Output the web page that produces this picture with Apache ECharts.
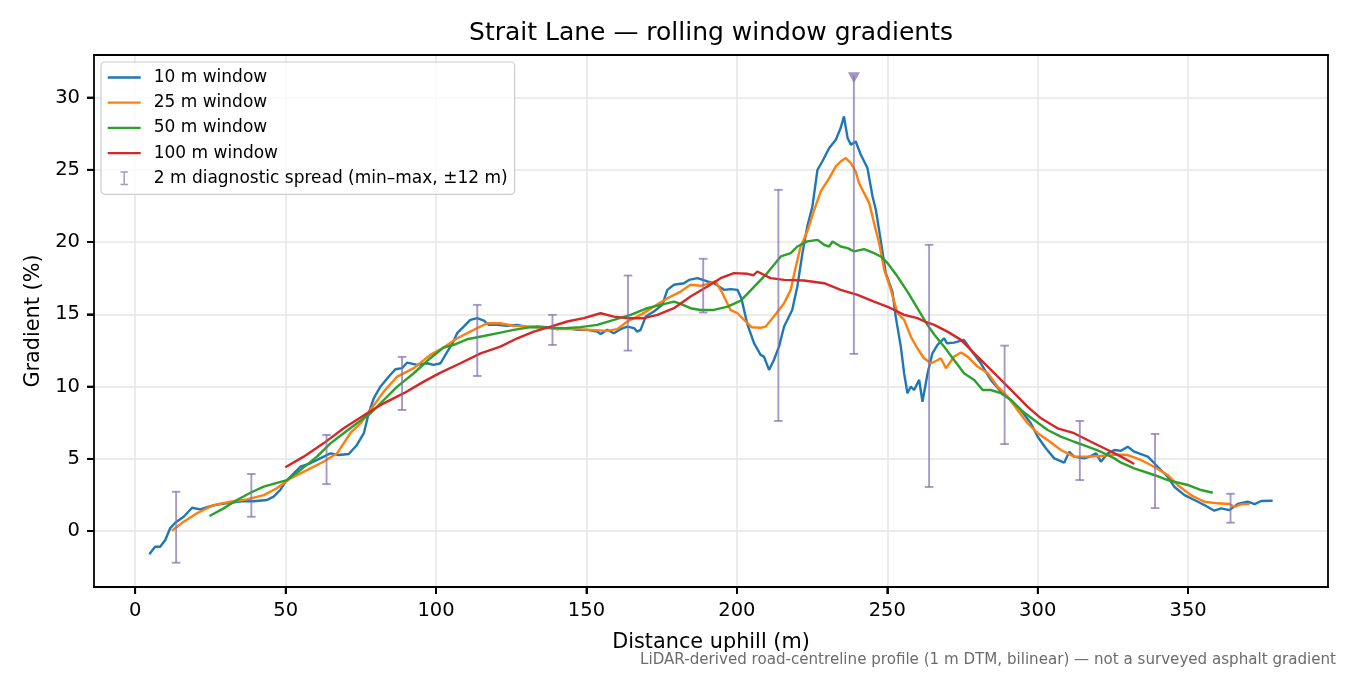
<!DOCTYPE html>
<html><head><meta charset="utf-8">
<script src="https://cdn.jsdelivr.net/npm/echarts@6/dist/echarts.min.js"></script>
<style>html,body{margin:0;padding:0;background:#fff}#c{width:1350px;height:675px}</style>
</head><body><div id="c"></div>
<script>
const xTicks=[0,50,100,150,200,250,300,350];
const yTicks=[0,5,10,15,20,25,30];
const seriesNames=['10 m window','25 m window','50 m window','100 m window'];
const errName='2 m diagnostic spread (min–max, ±12 m)';
const win10=[[4.7,-1.6],[6.6,-1.09],[8.3,-1.09],[10,-0.62],[11.6,0.19],[13.3,0.58],[16.1,0.99],[18.9,1.61],[21.6,1.5],[25,1.73],[28.3,1.87],[31.6,1.96],[36,2.08],[39.4,2.06],[43.8,2.15],[46,2.38],[48.2,2.84],[49.9,3.41],[52.7,3.99],[54.9,4.45],[58.2,4.69],[61.5,5.03],[64.9,5.38],[67.7,5.26],[71,5.33],[73.7,5.96],[76,6.77],[77.6,8.15],[79.3,9.19],[81.5,9.99],[84.3,10.69],[86.5,11.2],[88.7,11.27],[90.4,11.66],[93.7,11.5],[97,11.61],[99.2,11.5],[101.5,11.61],[103.4,12.3],[105.5,13.0],[107,13.69],[109.2,14.15],[111.4,14.61],[113.7,14.73],[115.9,14.56],[117.5,14.27],[120.3,14.27],[123.6,14.2],[127,14.27],[130.3,14.11],[133.6,14.15],[137,14.11],[140.3,13.97],[143.6,14.04],[146.9,13.92],[150.3,13.92],[153.6,13.8],[154.7,13.64],[156.9,13.92],[159.1,13.69],[161.3,13.97],[163.6,14.15],[165.8,14.04],[166.9,13.8],[168,13.92],[169.7,14.84],[172.4,15.19],[175.2,15.65],[176.9,16.69],[179.1,17.04],[182.4,17.15],[184.1,17.38],[186.9,17.5],[190.2,17.27],[192.4,17.15],[195.7,16.69],[197.9,16.74],[200.2,16.69],[201.5,16.1],[203.5,14.3],[205.7,13.0],[207.9,12.19],[209,12.07],[210.7,11.15],[212.3,11.84],[214,12.76],[215.7,14.15],[218.4,15.3],[220.1,16.92],[221.8,19.23],[223.4,21.07],[225.1,22.46],[226.8,25.0],[228.4,25.57],[230.7,26.5],[232.9,27.08],[234.5,27.89],[235.6,28.69],[236.8,27.2],[237.9,26.73],[239.5,26.96],[241.2,26.04],[243.4,25.12],[245.1,23.15],[246.2,22.23],[247.8,20.15],[249.5,17.85],[251.7,16.57],[252.8,14.84],[254.5,12.76],[255.6,10.92],[256.7,9.54],[257.8,9.99],[258.9,9.76],[260.6,10.46],[261.7,8.95],[263.4,10.92],[265.0,12.3],[266.7,12.88],[268.9,13.34],[269.8,13.0],[272.2,13.04],[275.5,13.23],[277.8,12.53],[281.1,11.61],[284.4,10.46],[287.8,9.65],[291.1,9.07],[294.4,8.38],[297.7,7.46],[300,6.53],[302.7,5.73],[305.5,5.03],[308.8,4.73],[310.5,5.49],[312.1,5.15],[315.5,5.03],[317.7,5.19],[319.4,5.38],[321,4.8],[323.3,5.38],[325.5,5.61],[327.7,5.55],[329.9,5.84],[332.1,5.49],[336.6,5.15],[339.9,4.45],[343.2,3.76],[345.4,3.07],[348.8,2.49],[352.1,2.15],[355.4,1.8],[358.7,1.41],[361,1.57],[363.7,1.45],[366.5,1.87],[369.8,2.03],[372.1,1.87],[374.3,2.08],[378.1,2.1]];
const win25=[[12.2,0.02],[16.1,0.65],[20.5,1.23],[26,1.8],[31.6,2.03],[37.2,2.19],[42.7,2.49],[47.1,2.96],[51.6,3.65],[57.1,4.22],[62.6,4.8],[67.1,5.38],[71.5,6.77],[74.9,7.46],[78.2,8.38],[82.6,9.65],[87.1,10.69],[92.6,11.27],[98.1,12.19],[102.5,12.7],[107,13.34],[112.5,13.92],[117,14.38],[121.4,14.38],[125.8,14.2],[130.3,14.15],[134.7,14.08],[140.3,13.97],[145.8,13.97],[151.4,13.92],[156.9,13.85],[160.2,13.97],[163.6,14.5],[168,14.96],[172.4,15.53],[176.9,16.11],[181.3,16.57],[184.6,17.04],[187.9,16.97],[191.2,17.15],[192.9,17.27],[195.2,16.46],[197.9,15.3],[200.2,15.07],[202.4,14.61],[205,14.1],[207.9,14.07],[209.6,14.15],[212.3,14.84],[215.7,15.77],[217.9,16.69],[219.6,18.3],[221.2,19.69],[223.4,20.73],[225.7,22.23],[227.9,23.5],[230.7,24.42],[232.9,25.23],[234.5,25.57],[236.2,25.81],[237.9,25.46],[239.5,24.88],[240.6,24.08],[242.3,23.38],[244,22.69],[245.6,21.31],[247.3,19.92],[249,18.07],[251.2,16.69],[253.4,15.07],[255.6,14.61],[257.8,13.46],[260,12.65],[262.2,11.96],[264.5,11.61],[266.5,11.8],[267.8,11.96],[269.5,11.27],[272.2,12.07],[274.5,12.35],[276.7,12.07],[280,11.38],[283.4,10.92],[286.7,9.99],[290,9.3],[293.3,8.38],[296.6,7.46],[300,6.77],[303.3,6.3],[307.7,5.61],[312.1,5.15],[316.6,5.15],[321,5.19],[325.5,5.3],[329.9,5.26],[334.3,4.92],[338.7,4.45],[343.2,3.88],[346.5,3.19],[350.9,2.49],[355.4,2.03],[359.8,1.92],[363.7,1.87],[365.3,1.68],[367.6,1.85],[370.4,1.87]];
const win50=[[24.7,1.04],[29.4,1.57],[33.8,2.15],[38.3,2.65],[42.7,3.07],[47.1,3.34],[50.5,3.53],[54.9,4.22],[60.4,5.15],[64.9,6.07],[69.3,6.77],[73.7,7.46],[78.2,8.15],[82.6,9.07],[87.1,9.99],[92.6,10.92],[98.1,11.96],[102.5,12.7],[105.9,12.88],[110.3,13.27],[115.9,13.5],[121.4,13.73],[125.8,13.92],[131.4,14.11],[137,14.08],[142.5,14.04],[148,14.11],[153.6,14.27],[159.1,14.61],[164.7,14.96],[170.2,15.42],[174.6,15.65],[179.1,15.88],[181.3,15.72],[184.6,15.42],[187.9,15.3],[192.4,15.3],[196.9,15.53],[201.3,15.95],[205.7,16.9],[210.1,17.85],[214.6,19.0],[217.9,19.23],[220.1,19.69],[223.4,20.04],[226.8,20.15],[229,19.81],[230.7,19.69],[231.8,20.04],[234.5,19.69],[236.8,19.58],[239,19.35],[242.3,19.51],[245.6,19.23],[247.8,19.0],[250.1,18.54],[253.4,17.61],[256.7,16.57],[260,15.42],[263.4,14.25],[265.6,13.6],[268.9,12.76],[272.2,11.84],[275.5,10.92],[278.9,10.46],[281.7,9.76],[284.4,9.76],[287.8,9.54],[291.1,9.07],[294.4,8.38],[298.8,7.69],[303.3,6.99],[307.7,6.53],[312.1,6.18],[316.6,5.84],[321,5.49],[325.5,5.03],[327.7,4.73],[332.1,4.34],[338.7,3.88],[343.2,3.53],[349.9,3.19],[354.3,2.84],[358.2,2.65]];
const win100=[[49.9,4.41],[56,5.15],[62.6,6.07],[69.3,7.11],[77.1,8.15],[82.6,8.84],[89.3,9.54],[95.9,10.34],[101.5,10.96],[108.1,11.61],[114.8,12.3],[121.4,12.76],[127,13.34],[132.5,13.8],[138.1,14.15],[143.6,14.5],[149.1,14.73],[154.7,15.07],[159.1,14.84],[163.6,14.73],[169.1,14.73],[173.6,14.96],[179.1,15.42],[184.6,16.23],[190.2,16.92],[194.6,17.5],[199,17.85],[203.5,17.8],[205.5,17.7],[206.8,17.96],[211.2,17.5],[215.7,17.38],[222.3,17.34],[229,17.15],[234.5,16.69],[240.1,16.34],[245.6,15.88],[251.2,15.42],[255.6,14.96],[260,14.73],[263,14.45],[265.6,14.27],[270,13.8],[274.5,13.23],[278.9,12.3],[283.4,11.38],[287.8,10.46],[292.2,9.54],[296.6,8.61],[301.1,7.8],[306.6,7.11],[312.1,6.77],[317.7,6.18],[323.3,5.61],[327.7,5.15],[332.1,4.64]];
const errX=[13.6,38.6,63.6,88.7,113.7,138.7,163.8,188.8,213.8,238.9,263.9,289.0,314.0,339.0,364.1];
const errLow=[-2.19,0.99,3.25,8.38,10.73,12.88,12.49,15.12,7.62,12.26,3.05,6.02,3.53,1.59,0.58];
const errHigh=[2.72,3.95,6.65,12.05,15.65,14.96,17.68,18.84,23.61,31.5,19.81,12.83,7.62,6.72,2.58];
const clippedX=[238.9];
const clippedY=[31.5];

const X_MIN=-13.7, X_MAX=396.5, Y_MIN=-3.87, Y_MAX=32.94;
const colors=['#1f77b4','#ff7f0e','#2ca02c','#d62728'];
const errColor='rgba(128,110,174,0.7)';
const FONT='"DejaVu Sans", sans-serif';
const lines=[win10,win25,win50,win100];
const lineIcon='path://M0,0H33V2.3H0Z';
const TICK_LEN=7;

const chart=echarts.init(document.getElementById('c'),null,{renderer:'canvas'});
const series=lines.map((d,i)=>({
  name:seriesNames[i], type:'line', data:d, showSymbol:false, symbol:'none',
  lineStyle:{color:colors[i],width:2.4}, itemStyle:{color:colors[i]}, z:3, animation:false, clip:true
}));
series.push({
  name:errName, type:'custom', z:4, animation:false,
  itemStyle:{color:errColor},
  data:errX.map((x,i)=>[x,errLow[i],errHigh[i],clippedX.indexOf(x)>=0?1:0]),
  encode:{x:0,y:[1,2]},
  renderItem:function(params,api){
    const x=api.value(0), lo=api.value(1), hi=api.value(2), clip=api.value(3);
    const p1=api.coord([x,hi]), p2=api.coord([x,lo]);
    const w=4.3;
    const st={stroke:errColor,lineWidth:1.9,fill:null};
    const ch=[
      {type:'line',shape:{x1:p1[0],y1:p1[1],x2:p2[0],y2:p2[1]},style:st},
      {type:'line',shape:{x1:p2[0]-w,y1:p2[1],x2:p2[0]+w,y2:p2[1]},style:st}
    ];
    if(!clip) ch.push({type:'line',shape:{x1:p1[0]-w,y1:p1[1],x2:p1[0]+w,y2:p1[1]},style:st});
    return {type:'group',children:ch};
  }
});
series.push({
  name:'clipped', type:'scatter', z:5, animation:false,
  data:clippedX.map((x,i)=>[x,clippedY[i]]),
  symbol:'triangle', symbolRotate:180, symbolSize:[12,11], symbolOffset:[0,2],
  itemStyle:{color:'#8a7bb2'}
});

const textGraphics=[
  {type:'text',x:711,y:33,z:10,style:{text:'Strait Lane — rolling window gradients',font:'25px "DejaVu Sans"',fill:'#000',align:'center',verticalAlign:'middle'}},
  {type:'text',x:1336,y:660,z:10,style:{text:'LiDAR-derived road-centreline profile (1 m DTM, bilinear) — not a surveyed asphalt gradient',font:'15.1px "DejaVu Sans"',fill:'#6b6b6b',align:'right',verticalAlign:'middle'}}
];

const frameAxis={axisLabel:{show:false},axisTick:{show:false},splitLine:{show:false},axisLine:{show:true,onZero:false,lineStyle:{color:'#000',width:1.8}}};

const option={
  backgroundColor:'#ffffff',
  animation:false,
  grid:{left:94,right:22,top:55,bottom:88,show:false},
  xAxis:[{
    type:'value', min:X_MIN, max:X_MAX, position:'bottom',
    name:'Distance uphill (m)', nameLocation:'middle', nameGap:45,
    nameTextStyle:{fontFamily:FONT,fontSize:20.8,color:'#000'},
    axisLine:{show:true,onZero:false,lineStyle:{color:'#000',width:1.8}},
    axisTick:{show:true,customValues:xTicks,length:TICK_LEN,inside:false,lineStyle:{color:'#000',width:1.8}},
    axisLabel:{customValues:xTicks,fontFamily:FONT,fontSize:19.5,color:'#000',margin:14},
    splitLine:{show:true,lineStyle:{color:'#e6e6e6',width:1.5}}
  },Object.assign({type:'value',min:X_MIN,max:X_MAX,position:'top'},frameAxis)],
  yAxis:[{
    type:'value', min:Y_MIN, max:Y_MAX, position:'left',
    name:'Gradient (%)', nameLocation:'middle', nameGap:50, nameRotate:90,
    nameTextStyle:{fontFamily:FONT,fontSize:20.8,color:'#000'},
    axisLine:{show:true,onZero:false,lineStyle:{color:'#000',width:1.8}},
    axisTick:{show:true,customValues:yTicks,length:TICK_LEN,inside:false,lineStyle:{color:'#000',width:1.8}},
    axisLabel:{customValues:yTicks,fontFamily:FONT,fontSize:19.5,color:'#000',margin:14},
    splitLine:{show:true,lineStyle:{color:'#e6e6e6',width:1.5}}
  },Object.assign({type:'value',min:Y_MIN,max:Y_MAX,position:'right'},frameAxis)],
  legend:{
    orient:'vertical', left:101, top:62,
    padding:[7,7,7.5,6.7],
    itemWidth:33, itemHeight:14, itemGap:8.2,
    backgroundColor:'rgba(255,255,255,0.8)', borderColor:'#cccccc', borderWidth:1.2, borderRadius:4,
    textStyle:{fontFamily:FONT,fontSize:17,color:'#000',lineHeight:17,padding:[0,0,0,8]},
    data:seriesNames.map(n=>({name:n,icon:lineIcon})).concat([{name:errName,icon:'path://M0,0H8V1.6H4.8V13.4H8V15H0V13.4H3.2V1.6H0Z'}])
  },
  graphic:textGraphics,
  series:series
};
chart.setOption(option);

// outside tick marks, placed through the chart's own axis scales (backup for axisTick)
const tickGraphics=[];
xTicks.forEach(v=>{
  const p=chart.convertToPixel({gridIndex:0},[v,Y_MIN]);
  if(p && isFinite(p[0])) tickGraphics.push({type:'rect',z:100,silent:true,shape:{x:p[0]-0.9,y:p[1],width:1.8,height:TICK_LEN},style:{fill:'#000'}});
});
yTicks.forEach(v=>{
  const p=chart.convertToPixel({gridIndex:0},[X_MIN,v]);
  if(p && isFinite(p[1])) tickGraphics.push({type:'rect',z:100,silent:true,shape:{x:p[0]-TICK_LEN,y:p[1]-0.9,width:TICK_LEN,height:1.8},style:{fill:'#000'}});
});
chart.setOption({graphic:textGraphics.concat(tickGraphics)});
</script></body></html>
